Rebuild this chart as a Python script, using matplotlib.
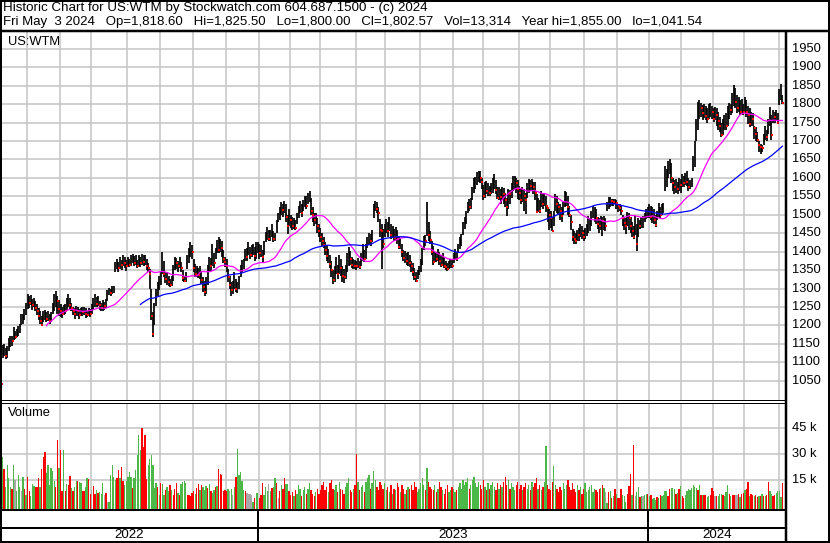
import matplotlib
matplotlib.use("Agg")
import matplotlib.pyplot as plt
from matplotlib.lines import Line2D
import matplotlib.transforms as mtransforms
import numpy as np
import pandas as pd

plt.rcParams['font.family'] = ['Liberation Sans', 'DejaVu Sans']

# ---------------- data ----------------
month_days = [17, 21, 20, 23, 21, 21, 21, 21,
              20, 19, 23, 19, 22, 21, 19, 23, 20, 22, 21, 20,
              21, 20, 20, 22, 3]
years = ["2022", "2023", "2024"]

close_2022 = [1041.5, 1125, 1138, 1118, 1132, 1150, 1168, 1158, 1180, 1168, 1176, 1190, 1198, 1212, 1222, 1232, 1250,
              1268, 1262, 1275, 1255, 1263, 1248, 1240, 1225, 1212, 1200, 1222, 1230, 1218, 1226, 1212, 1225, 1238, 1260, 1282, 1265, 1245,
              1240, 1232, 1245, 1238, 1262, 1270, 1255, 1248, 1240, 1232, 1245, 1238, 1228, 1240, 1235, 1242, 1230, 1228, 1238, 1232,
              1245, 1262, 1275, 1258, 1268, 1255, 1248, 1262, 1252, 1263, 1285, 1292, 1288, 1296, 1302, 1360, 1368, 1355, 1372, 1365, 1378, 1370, 1360,
              1372, 1365, 1378, 1385, 1370, 1375, 1362, 1380, 1368, 1385, 1372, 1378, 1360, 1355, 1340, 1225, 1178, 1255, 1290, 1305, 1320,
              1330, 1385, 1340, 1325, 1330, 1318, 1309, 1322, 1352, 1375, 1368, 1360, 1372, 1355, 1328, 1320, 1335, 1372, 1395, 1416, 1400,
              1355, 1340, 1348, 1338, 1345, 1322, 1303, 1290, 1315, 1350, 1372, 1360, 1385, 1370, 1398, 1418, 1405, 1420, 1410, 1380, 1372,
              1360, 1330, 1310, 1295, 1303, 1320, 1300, 1303, 1318, 1352, 1360, 1370, 1395, 1385, 1405, 1392, 1400, 1410, 1388, 1400, 1416]
high_2022 = [1041.5, 1148, 1150, 1140, 1145, 1165, 1172, 1170, 1195, 1185, 1190, 1198, 1205, 1230, 1232, 1245, 1262,
             1284, 1280, 1282, 1272, 1275, 1266, 1257, 1248, 1240, 1225, 1240, 1243, 1236, 1238, 1230, 1235, 1262, 1285, 1292, 1280, 1268,
             1257, 1250, 1255, 1258, 1275, 1284, 1275, 1262, 1251, 1248, 1252, 1250, 1245, 1248, 1251, 1250, 1246, 1240, 1248, 1245,
             1258, 1275, 1284, 1278, 1280, 1265, 1262, 1268, 1264, 1272, 1295, 1302, 1300, 1306, 1308, 1372, 1380, 1372, 1385, 1378, 1390, 1385, 1378,
             1385, 1380, 1392, 1393, 1388, 1390, 1378, 1392, 1385, 1393, 1390, 1390, 1380, 1368, 1352, 1300, 1235, 1262, 1300, 1318, 1333,
             1345, 1400, 1375, 1344, 1342, 1335, 1325, 1335, 1365, 1385, 1382, 1375, 1385, 1372, 1350, 1333, 1345, 1390, 1410, 1425, 1418,
             1380, 1366, 1362, 1355, 1360, 1348, 1330, 1320, 1330, 1365, 1385, 1382, 1420, 1395, 1410, 1432, 1440, 1435, 1428, 1405, 1385,
             1380, 1352, 1335, 1318, 1320, 1344, 1325, 1318, 1335, 1365, 1378, 1380, 1408, 1410, 1425, 1412, 1418, 1422, 1412, 1425, 1425]
low_2022 = [1041.5, 1112, 1118, 1110, 1112, 1130, 1142, 1145, 1160, 1162, 1168, 1172, 1180, 1200, 1205, 1215, 1228,
            1245, 1248, 1255, 1243, 1250, 1240, 1228, 1215, 1205, 1198, 1210, 1215, 1210, 1212, 1205, 1210, 1230, 1240, 1250, 1232, 1225,
            1222, 1221, 1228, 1230, 1243, 1250, 1245, 1238, 1228, 1218, 1225, 1226, 1216, 1225, 1226, 1228, 1221, 1222, 1225, 1224,
            1232, 1243, 1250, 1250, 1252, 1242, 1238, 1240, 1242, 1248, 1265, 1282, 1280, 1284, 1288, 1345, 1352, 1344, 1352, 1350, 1360, 1355, 1348,
            1358, 1357, 1360, 1368, 1362, 1365, 1355, 1362, 1358, 1365, 1362, 1365, 1350, 1345, 1300, 1215, 1168, 1200, 1252, 1280, 1295,
            1310, 1340, 1330, 1315, 1310, 1306, 1305, 1308, 1320, 1350, 1352, 1345, 1355, 1344, 1320, 1317, 1318, 1352, 1370, 1385, 1380,
            1345, 1330, 1330, 1328, 1325, 1312, 1290, 1280, 1285, 1310, 1345, 1348, 1360, 1355, 1380, 1395, 1395, 1400, 1385, 1370, 1357,
            1345, 1318, 1300, 1280, 1285, 1300, 1290, 1288, 1300, 1330, 1345, 1352, 1375, 1375, 1390, 1380, 1385, 1390, 1375, 1380, 1395]

close_2023 = [1395, 1410, 1385, 1420, 1440, 1450, 1435, 1445, 1460, 1434, 1438, 1470, 1490, 1505, 1520, 1512, 1525, 1495, 1470, 1505,
              1485, 1470, 1478, 1465, 1495, 1512, 1525, 1505, 1530, 1545, 1525, 1555, 1560, 1510, 1500, 1485, 1492, 1470, 1455,
              1440, 1430, 1418, 1405, 1388, 1395, 1366, 1350, 1323, 1345, 1360, 1340, 1385, 1355, 1335, 1331, 1345, 1375, 1395, 1380, 1365, 1372, 1362,
              1360, 1370, 1358, 1385, 1395, 1380, 1410, 1425, 1440, 1430, 1452, 1520, 1530, 1515, 1505, 1460, 1455, 1420, 1460,
              1465, 1455, 1470, 1445, 1460, 1438, 1450, 1435, 1413, 1420, 1398, 1382, 1390, 1375, 1385, 1368, 1360, 1345, 1330, 1320, 1335, 1345,
              1360, 1400, 1440, 1430, 1470, 1445, 1432, 1400, 1371, 1385, 1380, 1395, 1375, 1365, 1385, 1360, 1357, 1352, 1365, 1372, 1362,
              1385, 1395, 1380, 1410, 1425, 1435, 1470, 1485, 1502, 1525, 1520, 1541, 1565, 1590, 1595, 1605, 1617, 1600, 1590,
              1551, 1580, 1565, 1572, 1560, 1570, 1575, 1590, 1568, 1545, 1560, 1548, 1570, 1555, 1540, 1520, 1565, 1555, 1575, 1595, 1598, 1585, 1570,
              1560, 1541, 1565, 1550, 1540, 1570, 1585, 1578, 1590, 1575, 1560, 1508, 1535, 1510, 1540, 1530, 1545, 1525, 1518, 1500,
              1490, 1457, 1500, 1550, 1530, 1520, 1510, 1497, 1525, 1545, 1555, 1520, 1500, 1480, 1440, 1435, 1428, 1450, 1445, 1460, 1450, 1440,
              1452, 1455, 1462, 1480, 1495, 1510, 1515, 1490, 1475, 1470, 1490, 1482, 1495, 1470, 1525, 1530, 1545, 1538, 1535, 1540, 1532,
              1525, 1518, 1510, 1490, 1478, 1470, 1505, 1490, 1470, 1455, 1440, 1465, 1420, 1480, 1470, 1480, 1490, 1497, 1500, 1505]
high_2023 = [1420, 1418, 1405, 1430, 1452, 1468, 1458, 1460, 1475, 1455, 1450, 1485, 1505, 1520, 1535, 1530, 1538, 1530, 1500, 1515,
             1500, 1495, 1490, 1485, 1505, 1525, 1538, 1530, 1540, 1552, 1550, 1560, 1565, 1545, 1520, 1505, 1505, 1490, 1475,
             1465, 1450, 1440, 1425, 1415, 1408, 1390, 1375, 1350, 1360, 1385, 1365, 1390, 1380, 1360, 1352, 1365, 1395, 1412, 1402, 1385, 1380, 1378,
             1375, 1382, 1375, 1395, 1420, 1405, 1420, 1440, 1450, 1448, 1460, 1530, 1538, 1535, 1520, 1489, 1475, 1462, 1475,
             1489, 1480, 1495, 1475, 1470, 1462, 1467, 1458, 1440, 1435, 1420, 1405, 1401, 1395, 1400, 1390, 1374, 1370, 1355, 1345, 1350, 1362,
             1380, 1410, 1442, 1445, 1535, 1480, 1455, 1430, 1415, 1400, 1398, 1407, 1400, 1390, 1395, 1385, 1375, 1368, 1375, 1380, 1378,
             1395, 1407, 1400, 1420, 1440, 1447, 1480, 1495, 1510, 1535, 1543, 1545, 1575, 1600, 1603, 1615, 1620, 1618, 1600,
             1580, 1590, 1592, 1585, 1578, 1585, 1600, 1611, 1595, 1575, 1576, 1570, 1576, 1572, 1560, 1545, 1570, 1568, 1585, 1606, 1605, 1600, 1595,
             1579, 1570, 1575, 1570, 1560, 1585, 1598, 1595, 1598, 1590, 1590, 1555, 1545, 1540, 1565, 1555, 1560, 1550, 1521, 1515,
             1510, 1495, 1510, 1557, 1552, 1535, 1530, 1520, 1535, 1565, 1562, 1550, 1525, 1500, 1461, 1455, 1450, 1458, 1465, 1475, 1470, 1458,
             1465, 1475, 1497, 1490, 1510, 1524, 1520, 1515, 1495, 1490, 1497, 1495, 1497, 1490, 1535, 1549, 1549, 1543, 1543, 1543, 1540,
             1530, 1530, 1525, 1500, 1494, 1490, 1508, 1505, 1495, 1480, 1470, 1497, 1475, 1490, 1485, 1495, 1497, 1505, 1515, 1521]
low_2023 = [1380, 1385, 1371, 1390, 1425, 1432, 1428, 1430, 1440, 1425, 1428, 1450, 1480, 1485, 1500, 1495, 1505, 1480, 1448, 1470,
            1465, 1460, 1462, 1458, 1475, 1490, 1505, 1495, 1510, 1520, 1515, 1530, 1535, 1500, 1480, 1470, 1475, 1450, 1440,
            1425, 1415, 1410, 1390, 1375, 1370, 1355, 1330, 1311, 1318, 1340, 1325, 1340, 1335, 1318, 1315, 1325, 1345, 1360, 1365, 1355, 1352, 1352,
            1350, 1355, 1352, 1360, 1375, 1372, 1380, 1410, 1418, 1415, 1425, 1490, 1510, 1505, 1480, 1440, 1352, 1410, 1440,
            1450, 1440, 1455, 1435, 1438, 1428, 1430, 1420, 1407, 1408, 1385, 1375, 1370, 1365, 1360, 1357, 1345, 1335, 1322, 1319, 1325, 1338,
            1345, 1365, 1405, 1415, 1442, 1430, 1420, 1390, 1365, 1371, 1372, 1375, 1365, 1357, 1365, 1355, 1350, 1348, 1352, 1355, 1355,
            1370, 1378, 1375, 1395, 1407, 1415, 1445, 1462, 1475, 1505, 1510, 1515, 1540, 1560, 1570, 1580, 1590, 1585, 1570,
            1540, 1545, 1555, 1552, 1550, 1555, 1560, 1570, 1555, 1543, 1540, 1530, 1540, 1530, 1521, 1497, 1515, 1530, 1545, 1565, 1570, 1560, 1543,
            1540, 1530, 1535, 1510, 1502, 1545, 1560, 1565, 1565, 1555, 1540, 1505, 1508, 1505, 1520, 1515, 1525, 1508, 1480, 1460,
            1465, 1455, 1470, 1510, 1505, 1500, 1485, 1480, 1500, 1520, 1525, 1500, 1494, 1460, 1428, 1420, 1420, 1430, 1430, 1440, 1435, 1428,
            1435, 1442, 1450, 1455, 1470, 1490, 1480, 1475, 1461, 1450, 1460, 1442, 1460, 1455, 1510, 1515, 1520, 1525, 1524, 1528, 1515,
            1508, 1510, 1500, 1470, 1460, 1448, 1470, 1460, 1450, 1440, 1434, 1445, 1401, 1440, 1461, 1465, 1465, 1480, 1489, 1490]

close_2024 = [1505, 1495, 1510, 1485, 1472, 1495, 1510, 1500, 1520, 1530, 1568, 1610, 1639, 1649, 1600, 1585, 1575, 1580, 1570, 1590, 1580,
              1595, 1585, 1600, 1590, 1575, 1582, 1595, 1640, 1697, 1740, 1780, 1809, 1790, 1775, 1785, 1768, 1760, 1772, 1785, 1778,
              1760, 1775, 1770, 1755, 1740, 1715, 1730, 1750, 1740, 1765, 1795, 1785, 1800, 1830, 1806, 1790, 1800, 1780, 1790, 1780,
              1795, 1780, 1770, 1745, 1765, 1760, 1735, 1720, 1702, 1690, 1685, 1680, 1700, 1720, 1710, 1745, 1788, 1715, 1770, 1765, 1780, 1750,
              1825, 1832, 1802.57]
high_2024 = [1530, 1525, 1520, 1515, 1500, 1510, 1532, 1520, 1530, 1532, 1633, 1625, 1647, 1650, 1640, 1600, 1595, 1598, 1590, 1600, 1598,
             1610, 1605, 1612, 1620, 1600, 1595, 1600, 1660, 1701, 1760, 1805, 1810, 1803, 1798, 1800, 1795, 1790, 1800, 1803, 1795,
             1790, 1792, 1790, 1780, 1765, 1750, 1760, 1770, 1775, 1795, 1803, 1800, 1830, 1852, 1845, 1825, 1820, 1810, 1815, 1800,
             1819, 1810, 1795, 1790, 1780, 1775, 1742, 1738, 1725, 1700, 1693, 1690, 1720, 1742, 1730, 1760, 1792, 1770, 1783, 1780, 1783, 1775,
             1840, 1855, 1825.5]
low_2024 = [1490, 1485, 1478, 1475, 1468, 1485, 1495, 1491, 1500, 1505, 1565, 1575, 1600, 1610, 1585, 1565, 1557, 1560, 1557, 1565, 1560,
            1574, 1575, 1580, 1578, 1565, 1570, 1575, 1620, 1630, 1700, 1729, 1760, 1765, 1758, 1762, 1756, 1750, 1760, 1765, 1760,
            1752, 1758, 1740, 1730, 1725, 1710, 1715, 1729, 1730, 1740, 1760, 1770, 1775, 1795, 1790, 1775, 1780, 1770, 1772, 1770,
            1775, 1765, 1745, 1737, 1740, 1740, 1705, 1700, 1696, 1670, 1666, 1670, 1690, 1702, 1700, 1720, 1740, 1702, 1748, 1750, 1755, 1748,
            1797, 1810, 1800]

# volume in thousands of shares; direction: g = up, r = down, n = unchanged
vol_2022 = [14.2, 28.6, 21.4, 11.2, 23.7, 16, 11.2, 10, 23.7, 15, 8.4, 18, 11.2, 8.8, 17, 9.5,
            6.5, 17, 8.4, 6, 12.6, 11.8, 10.7, 10.7, 16.4, 11.2, 21.4, 28.6, 31, 19, 24, 12,
            22, 20, 14.2, 10.7, 38.2, 21.8, 32.4, 8.4, 32.4, 8.4, 12.6, 12.2, 17.6, 10.4, 8.4, 11,
            14.2, 14.2, 13.8, 13.2, 8.8, 8.8, 10.7, 16, 15.6, 6.9, 9.4, 11.8, 6.9, 9.4, 7.5, 8,
            6.9, 13.2, 6.5, 7.5, 2.5, 2.5, 18, 23.7, 17, 15, 16, 20.8, 16, 22.8, 14.2, 12,
            14.6, 17, 19.9, 17, 10.4, 16, 20.8, 29.6, 41.2, 32.4, 45, 34.4, 41.2, 15.6, 23.7, 27,
            29.6, 23.7, 10.4, 13.2, 11.2, 6.5, 13.2, 12.6, 6.5, 9.4, 11.2, 8.4, 12.2, 9.4, 6.5, 10,
            13.2, 7.5, 6.5, 12.6, 13.8, 14.6, 13.2, 6.5, 6.5, 5.5, 7.5, 8.4, 6.9, 10.4, 12.6, 9,
            12.2, 11.2, 9.4, 11.8, 10.4, 12.6, 8.4, 7.5, 9.4, 11.2, 11.8, 21.4, 18.4, 18, 8.8, 9,
            8.8, 9.8, 8.4, 9.8, 6.5, 11.2, 17, 33, 18, 19.9, 14.2, 9.4, 8.8, 7.5, 6.9, 7,
            6.5, 2.5, 4.6, 7.5, 7.5]
dir_2022 = ("ngrggggrgngggngr" "grrgggrrrgrrrggg" "gggrrgrrgrgrrgrg" "grggrrggrrnrrgrg"
            "ggnrngggggrrgrrg" "ggggrgggggrrrrgg" "ggggrgrggrggrgrr" "rgrggggrrrrrgrrg"
            "rgggrgrggrgrrrrr" "rgngngrgggggrnnn" "ngrgg")

vol_2023 = [4.6, 6.5, 13.2, 6.5, 10.7, 8.4, 12.6, 8.4, 10.4, 10.7, 16, 13.2, 4.6, 8.4, 12.2, 10, 16, 12.6, 12.6, 8.4, 6.5,
            8, 6, 9, 7, 12, 10, 6, 9, 11, 7, 10, 13, 9, 7, 6,
            8, 10, 7, 9, 12, 14, 9, 11, 8, 13, 15, 10, 9, 12, 8,
            14, 10, 9, 7, 11, 13, 16, 9, 8, 10, 12, 30, 14, 9, 11,
            12, 8, 14, 16, 18, 10, 13, 20, 15, 11, 9, 14, 12, 10, 13,
            9, 11, 8, 12, 7, 10, 9, 13, 11, 8, 12, 10, 7, 9, 11,
            10, 12, 9, 14, 11, 8, 10, 13, 16, 12, 9, 22, 14, 11, 10,
            9, 12, 8, 10, 14, 11, 9, 7, 10, 12, 8, 9, 11, 10, 8,
            9, 11, 13, 10, 15, 12, 14, 16, 10, 12, 15, 17, 13, 11, 14,
            12, 10, 15, 11, 9, 13, 10, 12, 14, 11, 9, 13, 10, 12, 11,
            14, 17, 12, 15, 10, 13, 11, 9, 12, 14, 10, 12, 9, 11, 13,
            10, 12, 9, 14, 11, 13, 16, 10, 12, 9, 11, 14, 35, 12, 10,
            9, 14, 23, 12, 10, 8, 11, 9, 13, 10, 12, 15, 11, 9, 13,
            10, 8, 12, 9, 11, 7, 10, 13, 8, 9, 11, 12, 8, 10, 9,
            8, 10,
            10.4, 12.2, 10.4, 8, 1.6, 8, 8.4, 4.6, 5.5, 10, 7,
            4.6, 4.6, 10, 6.5, 5.5, 2.5, 6.9, 11.8, 18.5, 6.5, 35.4, 6, 8,
            11.2, 5, 5.5, 6, 6.5, 6.9, 7.1]
dir_2023 = ("rrrgggngrggrnrgrrggrr"
            "rgrgggrggrggrrr" "grrrrrrrgrrrggr" "grrrgggrrgrrgrg" "grgggrgggrrrrrg"
            "grgrgrgrrgrrgrg" "rrrrrgggggrgrrr" "rgrgrrgrrrggrgg" "rgggggggrgggggg"
            "rrrgrgrgggrrgrg" "rrrgrgggrrrrgrr" "ggrgrrrgrgrggrr" "rrggrrrrgggrrrr"
            "rrgrgrrgggggggr" "rr"
            "grgngrgrgrg" "rrrgggrrrgrng" "grgnggr")

vol_2024 = [5.5, 6.5, 4.2, 4.6, 3.6, 5,
            4.6, 6.5, 5.5, 6.5, 8.4, 8.4, 5.5, 10, 10.4, 10.4, 10, 6.9, 7.5,
            10, 11.8, 5.5, 4.6, 6.5, 8.4, 10, 9.4, 10.4, 12.2, 11.2, 10.4, 9,
            12.2, 6.5, 6.5, 6.5, 6.5, 5, 5.5, 6.5, 10.4, 8.4, 5.5, 5.5, 6,
            6.9, 6.9, 6.5, 5.5, 8, 12.2, 6.9, 5.5, 6.5, 6.5, 6.5, 6.5, 7,
            5, 7.1, 7.5, 9.4, 9.8, 13.8, 6, 6.9, 6.5, 6, 6.5, 5, 6,
            5.5, 6.9, 5.5, 6, 6.5, 13.8, 8.4, 6.9, 5.5, 6.5, 7.5,
            8.4, 8.4, 5, 13.3]
dir_2024 = ("grgggr" "grggggrrgggrg" "rgrrggggggggr" "grgrrggrrrnrg"
            "ggrgggrgrrnnr" "grrgrrgrrgrrg" "rgrgrrggrrg" "gggr")

price_ticks = [1050, 1100, 1150, 1200, 1250, 1300, 1350, 1400, 1450, 1500,
               1550, 1600, 1650, 1700, 1750, 1800, 1850, 1900, 1950]
vol_ticks = [15, 30, 45]
vol_tick_labels = ["15 k", "30 k", "45 k"]

header1 = "Historic Chart for US:WTM by Stockwatch.com 604.687.1500 - (c) 2024"
header2 = ("Fri May  3 2024   Op=1,818.60   Hi=1,825.50   Lo=1,800.00   "
           "Cl=1,802.57   Vol=13,314   Year hi=1,855.00   lo=1,041.54")

# ---------------- assemble ----------------
close = np.array(close_2022 + close_2023 + close_2024, dtype=float)
high = np.array(high_2022 + high_2023 + high_2024, dtype=float)
low = np.array(low_2022 + low_2023 + low_2024, dtype=float)
vol = np.array(vol_2022 + vol_2023 + vol_2024, dtype=float)
dirs = dir_2022 + dir_2023 + dir_2024
N = sum(month_days)
assert len(close) == N and len(high) == N and len(low) == N, (len(close), len(high), len(low), N)
assert len(vol) == N and len(dirs) == N, (len(vol), len(dirs), N)
idx = np.arange(N)

month_starts = np.cumsum([0] + month_days[:-1])
year_starts = [month_starts[8], month_starts[20]]

W, H = 830, 543
fig = plt.figure(figsize=(W / 100, H / 100), dpi=100)


def fx(px):
    return px / W


def fy(py):
    return 1 - py / H


AX_R = 786
PX_PER_BAR = 1.566
xlim = (-1 / PX_PER_BAR, (AX_R - 1) / PX_PER_BAR)

ax = fig.add_axes([0, fy(400), fx(AX_R), (400 - 31) / H])
axv = fig.add_axes([0, fy(509), fx(AX_R), (509 - 403) / H])

grid_c = "#c8c8c8"
for a in (ax, axv):
    a.set_xlim(*xlim)
    for s in a.spines.values():
        s.set_visible(False)
    a.set_xticks([])
    a.set_yticks([])
    for m in month_starts[1:]:
        a.axvline(m - 0.5, color=grid_c, lw=1.2, zorder=0)

# price panel
ax.set_ylim(997.7, 1998.3)
for p in price_ticks:
    ax.axhline(p, color=grid_c, lw=1.2, zorder=0)
ax.vlines(idx, low, high, color="black", lw=1.25, zorder=3)
down = np.r_[True, close[1:] < close[:-1]]
ax.plot(idx[down] + 0.35, close[down], "s", color="#ff0000", ms=1.45, mew=0, zorder=4)
s = pd.Series(close)
ax.plot(idx, s.rolling(30).mean(), color="#ff00ff", lw=0.9, zorder=5)
ax.plot(idx, s.rolling(90).mean(), color="#0000ff", lw=0.9, zorder=5)

trans_p = mtransforms.blended_transform_factory(ax.transAxes, ax.transData)
for p in price_ticks:
    ax.text(792 / AX_R, p, str(p), transform=trans_p, ha="left", va="center",
            fontsize=9.3, color="black", clip_on=False)

# volume panel
vlo, vhi = -1.83, 59.7
axv.set_ylim(vlo, vhi)
for v in vol_ticks:
    axv.axhline(v, color=grid_c, lw=1.2, zorder=0)
cmap = {"g": "#4cb848", "r": "#ff0000", "n": "#a8a8a8"}
colors = [cmap[d] for d in dirs]
axv.bar(idx, vol - vlo, bottom=vlo, width=0.85, color=colors, lw=0, zorder=3)
trans_v = mtransforms.blended_transform_factory(axv.transAxes, axv.transData)
for v, lab in zip(vol_ticks, vol_tick_labels):
    axv.text(792 / AX_R, v, lab, transform=trans_v, ha="left", va="center",
             fontsize=9.3, color="black", clip_on=False)


# frame lines
def hline(y, x0, x1, lw_px):
    fig.add_artist(Line2D([fx(x0), fx(x1)], [fy(y), fy(y)], color="black",
                          lw=lw_px * 0.72, transform=fig.transFigure, solid_capstyle="butt"))


def vline(x, y0, y1, lw_px):
    fig.add_artist(Line2D([fx(x), fx(x)], [fy(y0), fy(y1)], color="black",
                          lw=lw_px * 0.72, transform=fig.transFigure, solid_capstyle="butt"))


hline(1, 0, W, 2)
hline(H - 1, 0, W, 2)
vline(1, 0, H, 2)
vline(W - 1, 0, H, 2)
hline(30.5, 0, W, 2.5)
vline(786, 31, H, 2.5)
hline(400, 0, AX_R, 1)
hline(402.5, 0, AX_R, 1)
hline(509.5, 0, AX_R, 2)
hline(527.5, 0, AX_R, 2)
for ys in year_starts:
    xp = 1 + (ys - 1) * PX_PER_BAR
    vline(xp, 509, H, 2)

# texts
fig.text(fx(3), fy(11), header1, fontsize=9.6, va="baseline", ha="left")
fig.text(fx(3), fy(24.5), header2, fontsize=9.5, va="baseline", ha="left")
fig.text(fx(8), fy(42), "US:WTM", fontsize=9.3, va="center", ha="left")
fig.text(fx(8), fy(413), "Volume", fontsize=9.3, va="center", ha="left")

bounds = [0] + [1 + (ys - 1) * PX_PER_BAR for ys in year_starts] + [AX_R]
for i, yr in enumerate(years):
    cx = (bounds[i] + bounds[i + 1]) / 2
    fig.text(fx(cx), fy(535), yr, fontsize=9.6, va="center", ha="center")

fig.savefig("out.png", dpi=100)
